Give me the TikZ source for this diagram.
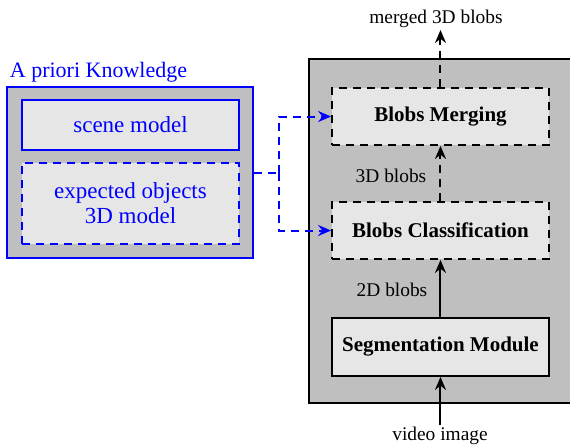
\documentclass[tikz,border=0pt]{standalone}
\usepackage{fontspec}
\setmainfont{Liberation Serif}
\usepackage{tikz}
\usetikzlibrary{arrows.meta}
\usetikzlibrary{positioning}

\definecolor{outergrey}{RGB}{191,191,191}
\definecolor{innergrey}{RGB}{230,230,230}

\tikzset{
  modbox/.style={draw=black, line width=0.9pt, fill=innergrey, minimum width=108.5pt, inner sep=0pt, font=\fontsize{10.5}{12}\selectfont\bfseries},
  knowbox/.style={draw=blue, line width=0.9pt, fill=innergrey, minimum width=108.5pt, inner sep=0pt, text=blue, align=center, font=\fontsize{11.5}{13.5}\selectfont},
  dashbox/.style={dash pattern=on 4pt off 3pt},
  lbl/.style={inner sep=0.75pt, font=\fontsize{9.7}{11}\selectfont},
  flow/.style={line width=1pt, -{Stealth[length=6.5pt,width=5.5pt]}},
}

\begin{document}
\begin{tikzpicture}[x=0.5pt,y=0.5pt,yscale=-1,xscale=1]
\useasboundingbox (0,0) rectangle (570,447);

%Shape: Rectangle, processing block
\node (system) [draw=black, line width=1pt, fill=outergrey, anchor=north west, minimum width=134pt, minimum height=172pt, inner sep=0pt] at (308,58) {};

%Shape: Rectangle, knowledge block
\node (know) [draw=blue, line width=0.9pt, fill=outergrey, minimum width=123pt, minimum height=85.5pt, inner sep=0pt] at (130,172.5) {};
\node (scene) [knowbox, minimum height=25pt] at (130.5,125) {scene model};
\node (objects) [knowbox, dashbox, minimum height=40.5pt] at (130.5,203.5) {expected objects\\[-1pt]3D model};

%Modules
\node (merge) [modbox, dashbox, minimum height=28.5pt] at (440.5,116.5) {Blobs Merging};
\node (classif) [modbox, dashbox, minimum height=28.5pt] at (440.5,230.5) {Blobs Classification};
\node (segm) [modbox, minimum height=29pt] at (440.5,347) {Segmentation Module};

% Text Node
\node (title) [anchor=west, inner sep=0.75pt, text=blue, font=\fontsize{11}{13}\selectfont] at (8,72) {A priori Knowledge};
% Text Node
\node (output) [lbl] at (436,19) {merged 3D blobs};
% Text Node
\node (input) [lbl] at (440,436) {video image};
% Text Node
\node (blobs3d) [lbl] at (391,176) {3D blobs};
% Text Node
\node (blobs2d) [lbl] at (392,290) {2D blobs};

%Straight Lines
\draw [flow] (input.north -| segm.south) -- (segm.south);
\draw [flow] (segm.north) -- (classif.south);
\draw [flow, dashbox] (classif.north) -- (merge.south);
\draw [flow, dashbox] (merge.north) -- (merge.north |- 0,30);

%Connector, knowledge to modules
\coordinate (split) at (279,172.5);
\draw [blue, line width=1pt, dashbox] (know.east) -- (split);
\draw [flow, blue, dashbox] (split) |- (merge.west);
\draw [flow, blue, dashbox] (split) |- (classif.west);

\end{tikzpicture}
\end{document}
